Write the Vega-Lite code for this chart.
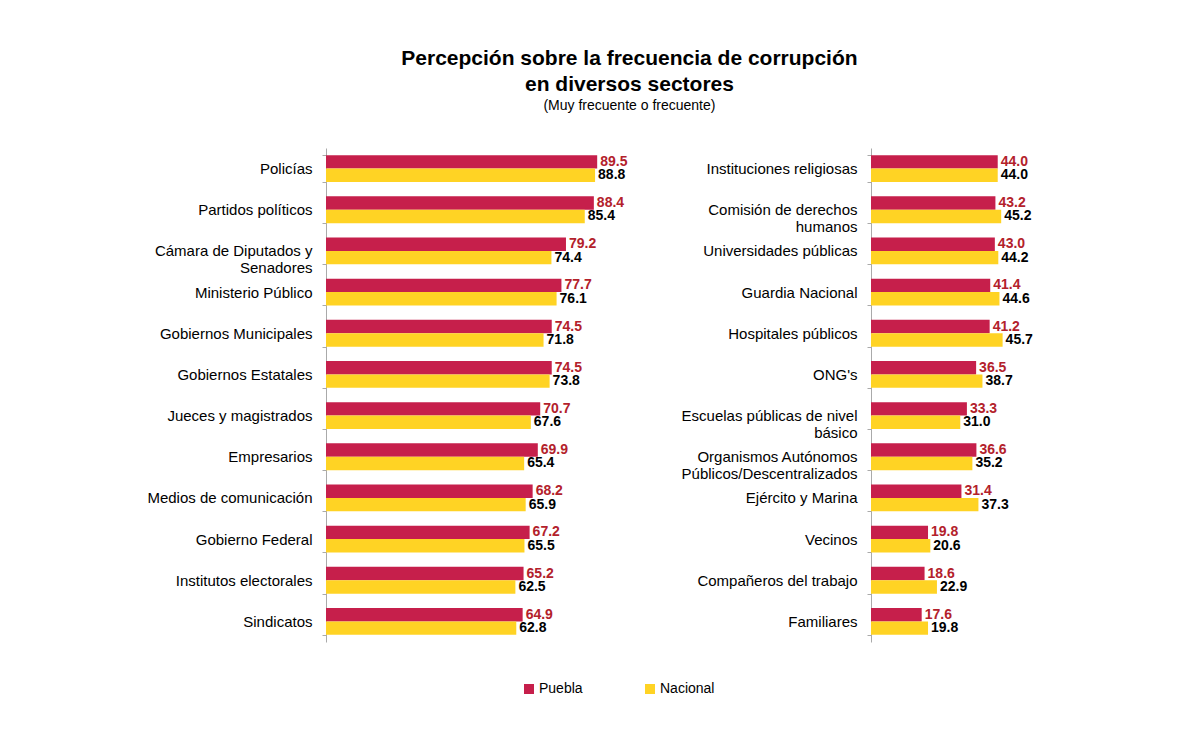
{
  "$schema": "https://vega.github.io/schema/vega-lite/v6.json",
  "background": "white",
  "padding": {"left": 126, "top": 48, "right": 10, "bottom": 10},
  "title": {
    "text": ["Percepción sobre la frecuencia de corrupción", "en diversos sectores"],
    "subtitle": "(Muy frecuente o frecuente)",
    "anchor": "middle",
    "dx": 50,
    "font": "Liberation Sans",
    "fontSize": 21,
    "fontWeight": "bold",
    "color": "black",
    "lineHeight": 26,
    "subtitleFont": "Liberation Sans",
    "subtitleFontSize": 14,
    "subtitleColor": "black",
    "subtitlePadding": 4,
    "offset": 28
  },
  "datasets": {
    "izq": [
      {"sector": "Policías", "serie": "Puebla", "valor": 89.5},
      {"sector": "Policías", "serie": "Nacional", "valor": 88.8},
      {"sector": "Partidos políticos", "serie": "Puebla", "valor": 88.4},
      {"sector": "Partidos políticos", "serie": "Nacional", "valor": 85.4},
      {"sector": "Cámara de Diputados y|Senadores", "serie": "Puebla", "valor": 79.2},
      {"sector": "Cámara de Diputados y|Senadores", "serie": "Nacional", "valor": 74.4},
      {"sector": "Ministerio Público", "serie": "Puebla", "valor": 77.7},
      {"sector": "Ministerio Público", "serie": "Nacional", "valor": 76.1},
      {"sector": "Gobiernos Municipales", "serie": "Puebla", "valor": 74.5},
      {"sector": "Gobiernos Municipales", "serie": "Nacional", "valor": 71.8},
      {"sector": "Gobiernos Estatales", "serie": "Puebla", "valor": 74.5},
      {"sector": "Gobiernos Estatales", "serie": "Nacional", "valor": 73.8},
      {"sector": "Jueces y magistrados", "serie": "Puebla", "valor": 70.7},
      {"sector": "Jueces y magistrados", "serie": "Nacional", "valor": 67.6},
      {"sector": "Empresarios", "serie": "Puebla", "valor": 69.9},
      {"sector": "Empresarios", "serie": "Nacional", "valor": 65.4},
      {"sector": "Medios de comunicación", "serie": "Puebla", "valor": 68.2},
      {"sector": "Medios de comunicación", "serie": "Nacional", "valor": 65.9},
      {"sector": "Gobierno Federal", "serie": "Puebla", "valor": 67.2},
      {"sector": "Gobierno Federal", "serie": "Nacional", "valor": 65.5},
      {"sector": "Institutos electorales", "serie": "Puebla", "valor": 65.2},
      {"sector": "Institutos electorales", "serie": "Nacional", "valor": 62.5},
      {"sector": "Sindicatos", "serie": "Puebla", "valor": 64.9},
      {"sector": "Sindicatos", "serie": "Nacional", "valor": 62.8}
    ],
    "der": [
      {"sector": "Instituciones religiosas", "serie": "Puebla", "valor": 44.0},
      {"sector": "Instituciones religiosas", "serie": "Nacional", "valor": 44.0},
      {"sector": "Comisión de derechos|humanos", "serie": "Puebla", "valor": 43.2},
      {"sector": "Comisión de derechos|humanos", "serie": "Nacional", "valor": 45.2},
      {"sector": "Universidades públicas", "serie": "Puebla", "valor": 43.0},
      {"sector": "Universidades públicas", "serie": "Nacional", "valor": 44.2},
      {"sector": "Guardia Nacional", "serie": "Puebla", "valor": 41.4},
      {"sector": "Guardia Nacional", "serie": "Nacional", "valor": 44.6},
      {"sector": "Hospitales públicos", "serie": "Puebla", "valor": 41.2},
      {"sector": "Hospitales públicos", "serie": "Nacional", "valor": 45.7},
      {"sector": "ONG's", "serie": "Puebla", "valor": 36.5},
      {"sector": "ONG's", "serie": "Nacional", "valor": 38.7},
      {"sector": "Escuelas públicas de nivel|básico", "serie": "Puebla", "valor": 33.3},
      {"sector": "Escuelas públicas de nivel|básico", "serie": "Nacional", "valor": 31.0},
      {"sector": "Organismos Autónomos|Públicos/Descentralizados", "serie": "Puebla", "valor": 36.6},
      {"sector": "Organismos Autónomos|Públicos/Descentralizados", "serie": "Nacional", "valor": 35.2},
      {"sector": "Ejército y Marina", "serie": "Puebla", "valor": 31.4},
      {"sector": "Ejército y Marina", "serie": "Nacional", "valor": 37.3},
      {"sector": "Vecinos", "serie": "Puebla", "valor": 19.8},
      {"sector": "Vecinos", "serie": "Nacional", "valor": 20.6},
      {"sector": "Compañeros del trabajo", "serie": "Puebla", "valor": 18.6},
      {"sector": "Compañeros del trabajo", "serie": "Nacional", "valor": 22.9},
      {"sector": "Familiares", "serie": "Puebla", "valor": 17.6},
      {"sector": "Familiares", "serie": "Nacional", "valor": 19.8}
    ]
  },
  "spacing": 42,
  "hconcat": [
    {
      "data": {"name": "izq"},
      "width": 303,
      "height": 494,
      "encoding": {
        "y": {"field": "sector", "type": "nominal", "sort": null, "title": null,
              "scale": {"paddingInner": 0.35, "paddingOuter": 0.175}},
        "yOffset": {"field": "serie", "type": "nominal", "sort": ["Puebla", "Nacional"], "scale": {"paddingInner": 0, "paddingOuter": 0}},
        "x": {"field": "valor", "type": "quantitative", "scale": {"domain": [0, 100]}, "axis": null}
      },
      "layer": [
        {"mark": {"type": "bar"},
         "encoding": {"color": {"field": "serie", "type": "nominal", "sort": ["Puebla", "Nacional"],
            "scale": {"domain": ["Puebla", "Nacional"], "range": ["#C61F4B", "#FFD324"]},
            "legend": {"title": null, "orient": "none", "direction": "horizontal", "legendX": 196, "legendY": 534}}}},
        {"mark": {"type": "text", "align": "left", "baseline": "middle", "dx": 3, "font": "Liberation Sans", "fontSize": 14, "fontWeight": "bold"},
         "encoding": {"text": {"field": "valor", "type": "quantitative", "format": ".1f"},
            "color": {"value": "black", "condition": {"test": "datum.serie === 'Puebla'", "value": "#B3212B"}}}}
      ]
    },
    {
      "data": {"name": "der"},
      "width": 144,
      "height": 494,
      "encoding": {
        "y": {"field": "sector", "type": "nominal", "sort": null, "title": null,
              "scale": {"paddingInner": 0.35, "paddingOuter": 0.175}},
        "yOffset": {"field": "serie", "type": "nominal", "sort": ["Puebla", "Nacional"], "scale": {"paddingInner": 0, "paddingOuter": 0}},
        "x": {"field": "valor", "type": "quantitative", "scale": {"domain": [0, 50]}, "axis": null}
      },
      "layer": [
        {"mark": {"type": "bar"},
         "encoding": {"color": {"field": "serie", "type": "nominal", "sort": ["Puebla", "Nacional"],
            "scale": {"domain": ["Puebla", "Nacional"], "range": ["#C61F4B", "#FFD324"]},
            "legend": {"title": null, "orient": "none", "direction": "horizontal", "legendX": 196, "legendY": 534}}}},
        {"mark": {"type": "text", "align": "left", "baseline": "middle", "dx": 3, "font": "Liberation Sans", "fontSize": 14, "fontWeight": "bold"},
         "encoding": {"text": {"field": "valor", "type": "quantitative", "format": ".1f"},
            "color": {"value": "black", "condition": {"test": "datum.serie === 'Puebla'", "value": "#B3212B"}}}}
      ]
    }
  ],
  "config": {
    "view": {"stroke": null},
    "axisY": {
      "labelExpr": "split(datum.label, '|')",
      "labelFont": "Liberation Sans",
      "labelFontSize": 15,
      "labelColor": "black",
      "labelLineHeight": 17,
      "labelLimit": 300,
      "labelPadding": 10,
      "tickSize": 4,
      "tickColor": "#AAAAAA",
      "domainColor": "#AAAAAA",
      "tickBand": "extent",
      "minExtent": 200,
      "maxExtent": 200
    },
    "legend": {
      "labelFont": "Liberation Sans",
      "labelFontSize": 14,
      "labelColor": "black",
      "symbolType": "square",
      "symbolSize": 100,
      "symbolStrokeWidth": 0,
      "columnPadding": 60,
      "labelOffset": 3
    }
  }
}
